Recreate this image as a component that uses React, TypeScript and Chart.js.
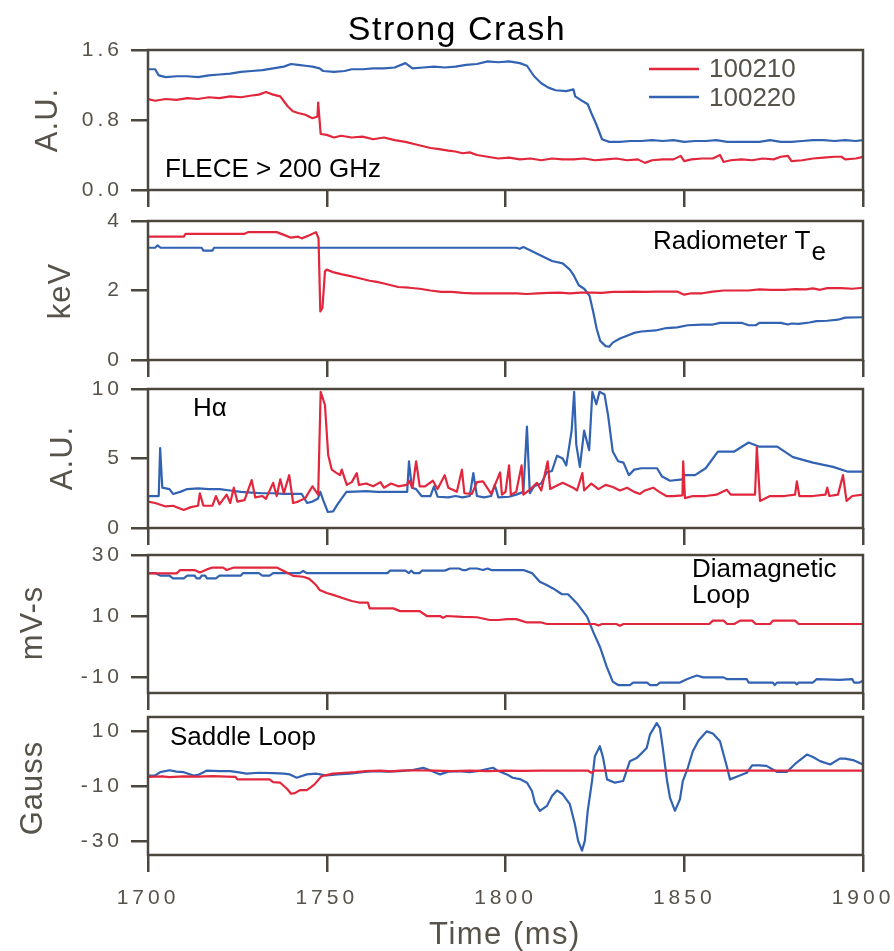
import React, { useEffect, useRef } from 'react';
import { Chart, registerables } from 'chart.js';

Chart.register(...registerables);

// ---------------- data ----------------
const seriesNames = ['100210', '100220'];
const timeTicks = [1700, 1750, 1800, 1850, 1900];

const fleceTicks = [0, 0.8, 1.6];
const fleceTickLabels = ['0.0', '0.8', '1.6'];
const flece100210: [number, number][] = [
  [1700, 1.04], [1702, 1.02], [1705, 1.04], [1708, 1.03], [1711, 1.05], [1714, 1.04], [1717, 1.06], [1720, 1.05],
  [1723, 1.07], [1726, 1.06], [1729, 1.08], [1731, 1.09], [1733, 1.12], [1735, 1.09], [1737, 1.07], [1739, 0.96],
  [1740.5, 0.9], [1742, 0.88], [1744, 0.86], [1746, 0.82], [1747.4, 0.84], [1747.6, 1.0], [1748.3, 0.64], [1750, 0.63],
  [1752, 0.6], [1754, 0.62], [1757, 0.6], [1760, 0.61], [1763, 0.58], [1766, 0.6], [1769, 0.57], [1772, 0.55],
  [1775, 0.52], [1777, 0.5], [1779, 0.48], [1781, 0.47], [1784, 0.45], [1786, 0.44], [1788, 0.42], [1790, 0.43],
  [1792, 0.4], [1795, 0.38], [1798, 0.36], [1801, 0.37], [1804, 0.35], [1807, 0.36], [1810, 0.34], [1813, 0.36],
  [1816, 0.35], [1819, 0.35], [1822, 0.36], [1825, 0.34], [1828, 0.35], [1831, 0.36], [1834, 0.34], [1837, 0.35],
  [1839, 0.31], [1841, 0.34], [1844, 0.35], [1847, 0.35], [1849, 0.39], [1850, 0.33], [1852, 0.35], [1855, 0.36],
  [1858, 0.36], [1860, 0.4], [1861, 0.32], [1863, 0.34], [1866, 0.35], [1869, 0.34], [1872, 0.36], [1875, 0.35],
  [1877, 0.38], [1879, 0.39], [1880, 0.33], [1883, 0.34], [1886, 0.36], [1889, 0.37], [1892, 0.38], [1894, 0.38],
  [1895, 0.35], [1898, 0.36], [1900, 0.38],
];
const flece100220: [number, number][] = [
  [1700, 1.38], [1702, 1.38], [1703, 1.31], [1705, 1.29], [1708, 1.3], [1711, 1.3], [1714, 1.29], [1717, 1.31],
  [1720, 1.32], [1723, 1.33], [1726, 1.35], [1729, 1.36], [1732, 1.37], [1735, 1.39], [1738, 1.41], [1740, 1.44],
  [1742, 1.43], [1744, 1.42], [1746, 1.41], [1748, 1.39], [1749, 1.36], [1752, 1.35], [1755, 1.36], [1757, 1.38],
  [1760, 1.38], [1763, 1.39], [1766, 1.39], [1769, 1.4], [1772, 1.45], [1774, 1.39], [1777, 1.4], [1780, 1.41],
  [1783, 1.4], [1786, 1.41], [1789, 1.43], [1792, 1.44], [1795, 1.47], [1798, 1.46], [1801, 1.47], [1804, 1.45],
  [1806, 1.42], [1808, 1.3], [1810, 1.22], [1812, 1.17], [1814, 1.14], [1817, 1.13], [1819, 1.15], [1819.5, 1.07],
  [1821, 1.03], [1823, 0.98], [1824, 0.88], [1825.5, 0.74], [1827, 0.58], [1829, 0.55], [1832, 0.55], [1835, 0.56],
  [1838, 0.56], [1841, 0.57], [1844, 0.56], [1847, 0.57], [1850, 0.55], [1853, 0.56], [1856, 0.56], [1859, 0.57],
  [1862, 0.55], [1865, 0.55], [1868, 0.55], [1871, 0.55], [1874, 0.57], [1877, 0.55], [1880, 0.55], [1883, 0.56],
  [1886, 0.57], [1889, 0.57], [1892, 0.56], [1895, 0.57], [1898, 0.56], [1900, 0.57],
];

const teTicks = [0, 2, 4];
const teTickLabels = ['0', '2', '4'];
const te100210: [number, number][] = [
  [1700, 3.55], [1710, 3.55], [1710.5, 3.63], [1727, 3.63], [1728, 3.68], [1736, 3.68], [1738, 3.6], [1740, 3.52],
  [1742, 3.55], [1743, 3.5], [1745, 3.58], [1747, 3.68], [1747.7, 3.5], [1748.2, 1.4], [1748.8, 1.5], [1749.5, 2.55],
  [1750, 2.6], [1752, 2.52], [1754, 2.47], [1756, 2.43], [1758, 2.38], [1760, 2.33], [1762, 2.28], [1764, 2.25],
  [1766, 2.2], [1768, 2.15], [1770, 2.1], [1773, 2.08], [1776, 2.05], [1779, 2.0], [1782, 1.96], [1785, 1.96],
  [1788, 1.93], [1791, 1.92], [1794, 1.92], [1797, 1.92], [1800, 1.92], [1803, 1.92], [1806, 1.9], [1809, 1.92],
  [1812, 1.93], [1815, 1.94], [1818, 1.92], [1821, 1.94], [1824, 1.94], [1827, 1.93], [1830, 1.96], [1833, 1.96],
  [1836, 1.97], [1839, 1.96], [1842, 1.97], [1845, 1.97], [1848, 1.97], [1850, 1.88], [1852, 1.92], [1855, 1.92],
  [1858, 1.97], [1861, 2.0], [1864, 2.0], [1868, 2.0], [1871, 2.03], [1874, 2.02], [1878, 2.02], [1881, 2.04],
  [1884, 2.03], [1886, 2.06], [1888, 2.02], [1890, 2.07], [1894, 2.07], [1897, 2.05], [1900, 2.08],
];
const te100220: [number, number][] = [
  [1700, 3.23], [1702, 3.23], [1702.7, 3.3], [1703.5, 3.23], [1715, 3.23], [1715.5, 3.15], [1718, 3.15], [1718.5, 3.23],
  [1800, 3.23], [1803, 3.23], [1804, 3.2], [1805, 3.25], [1807, 3.15], [1809, 3.05], [1811, 2.95], [1813, 2.85],
  [1816, 2.78], [1818, 2.6], [1819, 2.45], [1820.5, 2.15], [1822, 2.05], [1823.5, 1.85], [1824.5, 1.4], [1825.5, 0.9],
  [1826.5, 0.55], [1828, 0.4], [1829, 0.38], [1830, 0.5], [1832, 0.62], [1834, 0.7], [1836, 0.78], [1838, 0.82],
  [1842, 0.85], [1845, 0.92], [1848, 0.94], [1851, 1.0], [1855, 1.02], [1858, 1.02], [1860, 1.07], [1866, 1.07],
  [1868, 1.0], [1870, 1.0], [1871, 1.07], [1877, 1.07], [1879, 1.02], [1880, 1.05], [1882, 1.04], [1885, 1.08],
  [1887, 1.12], [1890, 1.13], [1893, 1.16], [1895, 1.22], [1900, 1.23],
];

const haTicks = [0, 5, 10];
const haTickLabels = ['0', '5', '10'];
const ha100210: [number, number][] = [
  [1700, 1.9], [1702, 1.8], [1705, 1.55], [1707, 1.6], [1710, 1.3], [1712, 1.5], [1714, 1.6], [1714.5, 2.5],
  [1715.5, 1.6], [1718, 1.6], [1719, 2.3], [1720, 1.7], [1722, 2.4], [1723, 1.8], [1724, 2.9], [1725, 1.9],
  [1727, 2.0], [1729, 3.45], [1730, 2.2], [1732, 2.3], [1733, 2.1], [1735, 3.25], [1736, 2.3], [1737, 3.5],
  [1738, 2.5], [1739.5, 3.8], [1740.6, 1.8], [1742, 1.9], [1744, 2.15], [1746, 3.0], [1747.6, 2.4], [1748.3, 9.8],
  [1749.5, 8.85], [1750.4, 5.25], [1751.4, 4.2], [1752.5, 4.0], [1753.7, 3.8], [1754.2, 4.2], [1755.6, 3.1], [1757, 3.3],
  [1758.4, 3.95], [1759, 3.1], [1761, 3.2], [1763, 3.0], [1765, 3.3], [1766, 2.9], [1768, 3.2], [1770, 3.0],
  [1772.4, 3.1], [1773, 3.4], [1774, 2.9], [1775, 4.8], [1776, 3.0], [1777.5, 3.0], [1779.7, 3.4], [1781, 2.8],
  [1783, 3.8], [1784, 2.9], [1786.4, 2.6], [1787.8, 4.2], [1788.5, 2.5], [1790.6, 2.45], [1792, 3.3], [1793.7, 3.35],
  [1796, 2.45], [1798.5, 4.0], [1799, 2.4], [1800, 2.6], [1801, 4.5], [1801.5, 2.4], [1803, 2.6], [1804.5, 4.5],
  [1805, 2.4], [1807, 2.8], [1808.8, 3.25], [1810, 2.7], [1811.8, 4.8], [1812.5, 2.8], [1814, 3.0], [1816, 3.25],
  [1818.9, 2.9], [1820, 2.7], [1821.5, 3.95], [1822, 2.7], [1824, 3.2], [1826, 2.8], [1828, 3.1], [1830, 2.95],
  [1832, 2.7], [1834, 2.9], [1836, 2.6], [1837.6, 2.45], [1839, 2.7], [1841.3, 2.9], [1843, 2.6], [1845, 2.3],
  [1847, 2.3], [1849.5, 2.35], [1849.7, 4.8], [1850.2, 2.15], [1852.4, 2.3], [1856, 2.3], [1859, 2.4], [1861.9, 2.75],
  [1863, 2.4], [1866, 2.4], [1869.8, 2.4], [1870.3, 5.8], [1871.2, 1.95], [1874, 2.3], [1878, 2.3], [1881, 2.4],
  [1881.5, 3.35], [1882.2, 2.3], [1886, 2.3], [1889.5, 2.4], [1890, 2.9], [1890.6, 2.3], [1893, 2.4], [1894.4, 3.8],
  [1895.4, 1.95], [1897, 2.3], [1900, 2.4],
];
const ha100220: [number, number][] = [
  [1700, 2.3], [1703, 2.3], [1703.4, 5.75], [1704, 2.9], [1706, 2.8], [1707, 2.45], [1709, 2.6], [1711, 2.8],
  [1714, 2.85], [1717, 2.8], [1720, 2.8], [1723, 2.7], [1726, 2.6], [1729, 2.55], [1732, 2.5], [1735, 2.5],
  [1738, 2.45], [1741, 2.45], [1743, 2.45], [1744.5, 1.8], [1746, 1.9], [1747.5, 2.1], [1748.2, 2.6], [1749, 2.0],
  [1750.3, 1.15], [1751.8, 1.2], [1753, 1.7], [1755.5, 2.6], [1758, 2.62], [1761, 2.65], [1764, 2.6], [1767, 2.6],
  [1770, 2.6], [1772.5, 2.6], [1773, 4.8], [1773.8, 2.9], [1775, 2.8], [1776.5, 2.3], [1779, 2.3], [1780, 3.0],
  [1781, 2.25], [1784, 2.2], [1786, 2.3], [1788, 2.2], [1790, 2.3], [1791, 3.95], [1792, 2.3], [1794, 2.2],
  [1796, 2.3], [1797, 3.1], [1798, 2.2], [1801, 2.25], [1803, 2.4], [1805, 2.6], [1806, 7.3], [1806.8, 2.5],
  [1808, 3.0], [1810, 3.2], [1811.5, 4.0], [1813, 4.1], [1814.4, 5.2], [1816, 5.0], [1817, 4.5], [1818.5, 7.0],
  [1819.2, 9.8], [1819.8, 6.0], [1820.8, 4.4], [1822, 7.0], [1823.4, 5.6], [1824.3, 9.8], [1825.4, 8.9], [1826.3, 9.8],
  [1827.7, 9.6], [1828.7, 8.1], [1830, 5.5], [1831.5, 4.8], [1833, 4.7], [1834.5, 3.8], [1836, 4.2], [1838, 4.3],
  [1840, 4.3], [1842.4, 4.3], [1843.8, 3.7], [1846, 3.4], [1849.5, 3.5], [1850, 3.8], [1853, 3.8], [1856, 4.3],
  [1859.4, 5.5], [1864, 5.5], [1868, 6.15], [1871, 5.85], [1876, 5.85], [1880.4, 5.1], [1886, 4.7], [1891.6, 4.4],
  [1895.8, 4.05], [1900, 4.05],
];

const diaTicks = [-10, 10, 30];
const diaTickLabels = ['-10', '10', '30'];
const dia100210: [number, number][] = [
  [1700, 24], [1708, 24], [1709, 25.1], [1713, 25.1], [1714.5, 24.3], [1716.5, 25.3], [1718, 25.9], [1721, 25.9],
  [1722, 25.1], [1724, 25.9], [1736, 25.9], [1738, 24.8], [1740.6, 23.2], [1743.4, 22.9], [1745, 22.3], [1746, 21.3],
  [1747, 20.2], [1748, 18.6], [1750, 17.6], [1751.8, 17.0], [1754.6, 15.9], [1757, 15.0], [1759, 14.5], [1761.5, 14.5],
  [1762, 12.6], [1768.6, 12.6], [1770.5, 11.7], [1776, 11.7], [1778, 10.1], [1781.7, 10.1], [1782.5, 9.5], [1783.5, 10.1],
  [1788, 9.8], [1792, 9.7], [1795.6, 8.8], [1798, 8.8], [1800.4, 9.1], [1803, 9.1], [1806, 8.0], [1810, 8.0],
  [1811.6, 7.5], [1825, 7.5], [1826, 7.0], [1827, 7.5], [1831, 7.5], [1832, 6.9], [1833, 7.5], [1857, 7.5],
  [1858, 8.6], [1861, 8.6], [1862, 7.5], [1864, 7.5], [1865.6, 8.6], [1869, 8.6], [1870, 7.5], [1874, 7.5],
  [1874.8, 8.6], [1881, 8.6], [1882, 7.5], [1900, 7.5],
];
const dia100220: [number, number][] = [
  [1700, 24.1], [1702, 24.1], [1703.4, 23.3], [1706, 23.3], [1707, 22.4], [1710, 22.4], [1711, 23.3], [1713, 23.3],
  [1713.6, 22.4], [1714.5, 22.4], [1715, 23.3], [1716, 23.3], [1716.5, 22.4], [1719, 22.4], [1720, 23.3], [1726, 23.3],
  [1726.6, 24.1], [1731, 24.1], [1732, 23.3], [1734, 23.3], [1735, 24.1], [1742.5, 24.1], [1743.4, 24.8], [1744.4, 24.1],
  [1767, 24.1], [1767.7, 24.9], [1772, 24.9], [1773, 24.1], [1773.6, 24.9], [1774.4, 24.1], [1776, 24.1], [1776.6, 24.9],
  [1783, 24.9], [1784.5, 25.6], [1787, 25.6], [1788, 25.1], [1789, 25.1], [1790, 25.6], [1792, 25.6], [1793.7, 25.1],
  [1795, 25.6], [1796, 25.1], [1805, 25.1], [1807.4, 24.1], [1809.6, 21.3], [1811.5, 20.2], [1813.3, 19.1], [1815.8, 17.2],
  [1817.5, 17.2], [1820, 14.2], [1822.8, 9.9], [1824.5, 5.0], [1826.4, 0.1], [1828.3, -6.4], [1830, -11.3], [1831.5, -12.4],
  [1834.8, -12.4], [1835.7, -11.6], [1839.6, -11.6], [1840.4, -12.4], [1842.3, -12.4], [1843.2, -11.6], [1848.8, -11.6], [1850.7, -10.5],
  [1853.5, -9.3], [1855.3, -9.9], [1861, -9.9], [1862, -10.5], [1867.5, -10.5], [1868, -11.6], [1874.8, -11.6], [1875.3, -12.4],
  [1876, -11.6], [1881, -11.6], [1881.5, -12.2], [1882, -11.6], [1886, -11.6], [1887, -10.5], [1893.5, -10.7], [1897, -10.5],
  [1897.5, -11.6], [1899, -11.6], [1900, -11],
];

const saddleTicks = [-30, -10, 10];
const saddleTickLabels = ['-30', '-10', '10'];
const saddle100210: [number, number][] = [
  [1700, -6.7], [1704, -6.5], [1706, -6.8], [1710, -6.5], [1714, -6.6], [1718, -6.4], [1722, -6.6], [1724.5, -6.7],
  [1725, -7.6], [1734, -7.6], [1735, -8.6], [1737, -8.8], [1738, -10.0], [1739, -11.2], [1740, -12.8], [1741, -12.6],
  [1742.5, -11.5], [1744.4, -11.5], [1745.5, -10.5], [1746.5, -9.5], [1748.6, -6.4], [1751.7, -5.5], [1755, -5.2], [1758, -5.0],
  [1761, -4.6], [1765, -4.4], [1768, -4.7], [1770.5, -4.4], [1775, -4.3], [1780, -4.4], [1785, -4.6], [1790, -4.4],
  [1795, -4.6], [1800, -4.4], [1805, -4.5], [1810, -4.4], [1815, -4.4], [1820, -4.4], [1823, -4.4], [1824, -5.2],
  [1825, -4.4], [1840, -4.4], [1900, -4.4],
];
const saddle100220: [number, number][] = [
  [1700, -6.2], [1702, -6.2], [1703.4, -5.0], [1706, -4.3], [1708, -4.8], [1710, -5.0], [1712.7, -6.2], [1714, -6.0],
  [1716.5, -4.4], [1720, -4.6], [1723, -4.6], [1725, -5.0], [1727.6, -5.5], [1731, -5.2], [1735, -5.3], [1738, -5.5],
  [1739.7, -5.8], [1741.6, -7.0], [1744.4, -5.8], [1747, -5.5], [1750, -6.2], [1753, -5.8], [1756.5, -5.5], [1760, -5.0],
  [1763, -4.6], [1767, -4.8], [1770.5, -4.6], [1774, -4.2], [1777, -3.4], [1779, -4.4], [1781.7, -5.8], [1784, -4.8],
  [1787, -4.6], [1790, -5.0], [1793, -4.4], [1796.5, -3.4], [1798, -4.6], [1800.4, -5.8], [1802, -7.0], [1804, -7.5],
  [1806, -8.8], [1807.4, -11.8], [1808.2, -16], [1809.6, -19], [1811.6, -17.2], [1813, -13.6], [1814.4, -11.6], [1816, -13.0],
  [1818, -16.6], [1819.4, -23.8], [1820.3, -29.8], [1821.4, -33.4], [1822.2, -29.8], [1823, -19], [1824.2, -8.2], [1825, 0.8],
  [1826.4, 4.4], [1827.3, 0.2], [1828.4, -7.6], [1830.6, -8.8], [1832.9, -8.2], [1834.8, -1.0], [1836.8, 0.2], [1839.5, 3.8],
  [1840.4, 8.6], [1842.3, 12.8], [1843.2, 11.0], [1844, 3.8], [1845.2, -8.2], [1846, -14.2], [1847.4, -19], [1848.8, -14.8],
  [1849.6, -8.2], [1851, -3.4], [1852.4, 2.6], [1854, 6.5], [1856.3, 9.8], [1858, 9.0], [1860, 6.2], [1862, -3.4],
  [1862.8, -7.6], [1865, -6.5], [1867.5, -5.2], [1869, -2.5], [1871, -2.5], [1873, -2.7], [1876, -4.9], [1878.7, -4.9],
  [1881, -2.0], [1884.3, 1.4], [1886, 0.5], [1888, -1.0], [1890.8, -2.2], [1893.5, -0.1], [1895, -0.1], [1897.2, -0.6],
  [1900, -2.2],
];

// ---------------- style ----------------
const RED = '#e2263c';
const BLUE = '#3262b2';
const FRAME = '#4b473f';
const GRAY = '#57524a';
const FONT = '"Liberation Sans", Arial, Helvetica, sans-serif';

type TextItem = {
  text: string; x: number; y: number; size: number; color: string;
  align?: CanvasTextAlign; rotate?: boolean; spacing?: number; sub?: string; subDy?: number;
};

type PanelDef = {
  red: [number, number][]; blue: [number, number][];
  min: number; max: number; ticks: number[]; labels: string[];
  top: number; padTop: number; plotH: number; xh: number; showX: boolean;
  texts: TextItem[]; legend?: boolean;
};

const panels: PanelDef[] = [
  {
    red: flece100210, blue: flece100220, min: 0, max: 1.6, ticks: fleceTicks, labels: fleceTickLabels,
    top: 0, padTop: 50, plotH: 140, xh: 18, showX: false, legend: true,
    texts: [
      { text: 'Strong Crash', x: 457, y: 40, size: 34, color: '#000', align: 'center', spacing: 1.5 },
      { text: 'A.U.', x: 57, y: 120, size: 31, color: GRAY, align: 'center', rotate: true, spacing: 1 },
      { text: 'FLECE > 200 GHz', x: 165, y: 177, size: 26, color: '#000' },
    ],
  },
  {
    red: te100210, blue: te100220, min: 0, max: 4, ticks: teTicks, labels: teTickLabels,
    top: 208, padTop: 13, plotH: 139, xh: 18, showX: false,
    texts: [
      { text: 'keV', x: 70, y: 291, size: 31, color: GRAY, align: 'center', rotate: true, spacing: 1 },
      { text: 'Radiometer T', x: 653, y: 249, size: 26, color: '#000', sub: 'e', subDy: 11 },
    ],
  },
  {
    red: ha100210, blue: ha100220, min: 0, max: 10, ticks: haTicks, labels: haTickLabels,
    top: 378, padTop: 11, plotH: 139, xh: 18, showX: false,
    texts: [
      { text: 'A.U.', x: 72, y: 458, size: 31, color: GRAY, align: 'center', rotate: true, spacing: 1 },
      { text: 'Hα', x: 193, y: 416, size: 26, color: '#000' },
    ],
  },
  {
    red: dia100210, blue: dia100220, min: -15, max: 30, ticks: diaTicks, labels: diaTickLabels,
    top: 546, padTop: 9, plotH: 138, xh: 18, showX: false,
    texts: [
      { text: 'mV-s', x: 42, y: 623, size: 31, color: GRAY, align: 'center', rotate: true, spacing: 1 },
      { text: 'Diamagnetic', x: 692, y: 577, size: 26, color: '#000' },
      { text: 'Loop', x: 692, y: 603, size: 26, color: '#000' },
    ],
  },
  {
    red: saddle100210, blue: saddle100220, min: -35, max: 15, ticks: saddleTicks, labels: saddleTickLabels,
    top: 711, padTop: 6, plotH: 138, xh: 96, showX: true,
    texts: [
      { text: 'Gauss', x: 42, y: 788, size: 31, color: GRAY, align: 'center', rotate: true, spacing: 1 },
      { text: 'Saddle Loop', x: 170, y: 745, size: 26, color: '#000' },
      { text: 'Time (ms)', x: 505, y: 944, size: 31, color: GRAY, align: 'center', spacing: 1.5 },
    ],
  },
];

function makeDecor(p: PanelDef) {
  return {
    id: 'decor',
    beforeDraw(chart: any) {
      (chart.ctx as any).letterSpacing = '4px';
    },
    afterDatasetsDraw(chart: any) {
      const { ctx, chartArea: a } = chart;
      ctx.save();
      (ctx as any).letterSpacing = '0px';
      ctx.strokeStyle = FRAME;
      ctx.lineWidth = 2.5;
      ctx.strokeRect(a.left, a.top, a.right - a.left, a.bottom - a.top);
      ctx.restore();
    },
    afterDraw(chart: any) {
      const ctx: CanvasRenderingContext2D = chart.ctx;
      const off = p.top;
      for (const t of p.texts) {
        ctx.save();
        (ctx as any).letterSpacing = (t.spacing || 0) + 'px';
        ctx.font = `${t.size}px ${FONT}`;
        ctx.fillStyle = t.color;
        ctx.textAlign = t.align || 'left';
        ctx.textBaseline = 'alphabetic';
        if (t.rotate) {
          ctx.translate(t.x, t.y - off);
          ctx.rotate(-Math.PI / 2);
          ctx.fillText(t.text, 0, 0);
        } else {
          ctx.fillText(t.text, t.x, t.y - off);
          if (t.sub) {
            const w = ctx.measureText(t.text).width;
            ctx.fillText(t.sub, t.x + w + 1, t.y - off + (t.subDy || 0));
          }
        }
        ctx.restore();
      }
      if (p.legend) {
        const dss = chart.data.datasets;
        dss.forEach((ds: any, i: number) => {
          const ly = 69 + i * 28 - off;
          ctx.save();
          (ctx as any).letterSpacing = '0px';
          ctx.strokeStyle = ds.borderColor;
          ctx.lineWidth = 2.5;
          ctx.beginPath();
          ctx.moveTo(649, ly);
          ctx.lineTo(699, ly);
          ctx.stroke();
          ctx.font = `26px ${FONT}`;
          ctx.fillStyle = GRAY;
          ctx.textAlign = 'left';
          ctx.textBaseline = 'alphabetic';
          ctx.fillText(ds.label, 709, 77 + i * 29 - off);
          ctx.restore();
        });
      }
    },
  };
}

function Panel({ p }: { p: PanelDef }) {
  const ref = useRef<HTMLCanvasElement | null>(null);
  const height = p.padTop + p.plotH + p.xh;
  useEffect(() => {
    if (!ref.current) return;
    const toPts = (arr: [number, number][]) => arr.map(([x, y]) => ({ x, y }));
    const chart = new Chart(ref.current, {
      type: 'line',
      data: {
        datasets: [
          {
            label: seriesNames[0], data: toPts(p.red), borderColor: RED, backgroundColor: RED,
            borderWidth: 2.2, pointRadius: 0, tension: 0, order: 0, borderJoinStyle: 'round', fill: false,
          },
          {
            label: seriesNames[1], data: toPts(p.blue), borderColor: BLUE, backgroundColor: BLUE,
            borderWidth: 2.2, pointRadius: 0, tension: 0, order: 1, borderJoinStyle: 'round', fill: false,
          },
        ],
      },
      options: {
        responsive: false,
        animation: false,
        parsing: false as any,
        layout: { padding: { top: p.padTop, left: 0, right: 31, bottom: 0 } },
        plugins: { legend: { display: false }, tooltip: { enabled: false }, title: { display: false } },
        scales: {
          x: {
            type: 'linear', min: 1700, max: 1900,
            afterBuildTicks: (s: any) => { s.ticks = timeTicks.map((v) => ({ value: v })); },
            afterFit: (s: any) => { s.height = p.xh; s.paddingLeft = 0; s.paddingRight = 0; },
            grid: { drawOnChartArea: false, drawTicks: true, tickLength: 17, color: FRAME, lineWidth: 2.5 },
            border: { display: false },
            ticks: {
              display: p.showX, color: GRAY, font: { size: 21, family: FONT }, padding: 14,
              maxRotation: 0, autoSkip: false, callback: (v: any) => String(v),
            },
          },
          y: {
            type: 'linear', min: p.min, max: p.max,
            afterBuildTicks: (s: any) => { s.ticks = p.ticks.map((v) => ({ value: v })); },
            afterFit: (s: any) => { s.width = 148; s.paddingTop = 0; s.paddingBottom = 0; },
            grid: { drawOnChartArea: false, drawTicks: true, tickLength: 17, color: FRAME, lineWidth: 2.5 },
            border: { display: false },
            ticks: {
              color: GRAY, font: { size: 21, family: FONT }, padding: 8,
              callback: (v: any) => {
                const i = p.ticks.indexOf(Number(v));
                return i >= 0 ? p.labels[i] : '';
              },
            },
          },
        },
      },
      plugins: [makeDecor(p)],
    } as any);
    return () => chart.destroy();
  }, [p]);
  return (
    <canvas
      ref={ref}
      width={894}
      height={height}
      style={{ position: 'absolute', left: 0, top: p.top, width: 894, height }}
    />
  );
}

export default function App() {
  return (
    <div style={{ position: 'absolute', left: 0, top: 0, width: 894, height: 951, background: '#fff', overflow: 'hidden' }}>
      {panels.map((p, i) => (
        <Panel key={i} p={p} />
      ))}
    </div>
  );
}
